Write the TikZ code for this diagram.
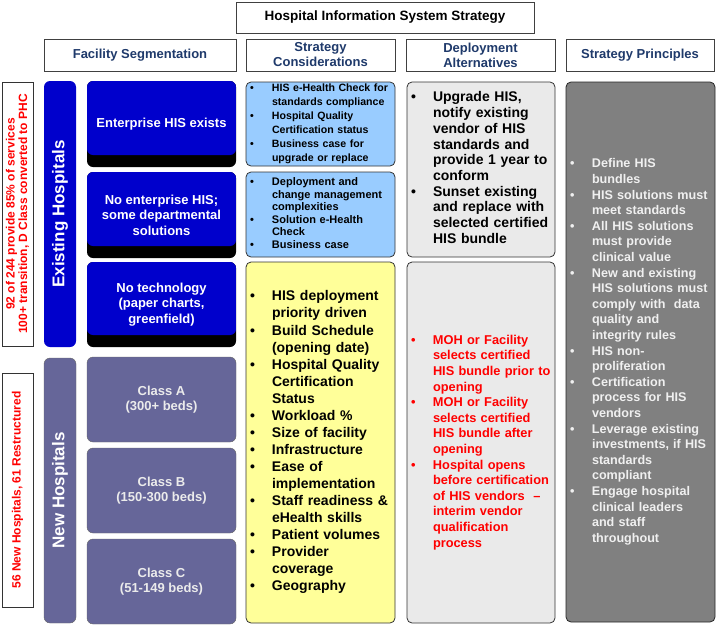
\documentclass[tikz,border=0pt]{standalone}
\usepackage{fontspec}
\setmainfont{Liberation Sans}
\definecolor{hisblue}{HTML}{0000CC}
\definecolor{hisslate}{HTML}{666699}
\definecolor{hissky}{HTML}{99CCFF}
\definecolor{hisyellow}{HTML}{FFFF99}
\definecolor{hislight}{HTML}{EAEAEA}
\definecolor{hisgray}{HTML}{808080}
\definecolor{hisnavy}{HTML}{1F3A6B}
\definecolor{hisred}{HTML}{FF0000}
\newcommand{\bl}{\textbullet}
\newcommand{\hislist}[1]{\begin{tabular}{@{}p{22pt}@{}l@{}}#1\end{tabular}}
\begin{document}
\begin{tikzpicture}[x=1pt,y=-1pt,
  head/.style={draw=black!75, line width=0.8pt, fill=white, text=hisnavy, align=center, inner sep=0pt,
    minimum height=32pt, font=\fontsize{13}{15}\selectfont\bfseries},
  note/.style={draw=black!80, line width=0.8pt, text=hisred, rotate=90, align=center, inner sep=0pt,
    minimum height=31pt, font=\fontsize{12}{12.5}\selectfont\bfseries},
  bar/.style={rounded corners=6pt, rotate=90, text=white, inner sep=0pt,
    minimum height=32pt, font=\fontsize{17}{20}\selectfont\bfseries},
  seg/.style={rounded corners=6pt, fill=black, text=white, align=center, inner sep=0pt,
    minimum width=149pt, minimum height=86pt, font=\fontsize{13}{15.4}\selectfont\bfseries,
    path picture={\fill[hisblue, rounded corners=6pt] (path picture bounding box.north west)
      rectangle ([yshift=12pt]path picture bounding box.south east);}},
  cls/.style={rounded corners=6pt, fill=hisslate, draw=black!60, text=white!92!black, align=center, inner sep=0pt,
    minimum width=149pt, minimum height=85pt, font=\fontsize{13}{15.6}\selectfont\bfseries},
  list/.style={rounded corners=5pt, draw=black!80, line width=0.8pt, align=left,
    text width=141pt, inner xsep=4pt, inner ysep=0pt}]
\useasboundingbox (0,0) rectangle (719,629);

\node [draw=black!75, line width=0.8pt, inner sep=0pt, minimum width=298pt, minimum height=31pt,
  font=\fontsize{13.5}{15}\selectfont\bfseries] (title) at (385,17.5) {Hospital Information System Strategy};

\node [head, minimum width=192pt] (fac) at (140,55) {Facility Segmentation};
\node [head, minimum width=149pt] (con) at (320.5,55) {Strategy\\Considerations};
\node [head, minimum width=149pt] (dep) at (480.5,55) {Deployment\\Alternatives};
\node [head, minimum width=148pt] (pri) at (640,55) {Strategy Principles};

\node [note, minimum width=264pt] (oldnote) at (17.5,214) {92 of 244 provide 85\% of services\\100+ transition, D Class converted to PHC};
\node [note, minimum width=234pt] (newnote) at (17.5,490) {56 New Hospitals, 61 Restructured};

\node [bar, fill=hisblue, minimum width=266pt] (exist) at (60,214) {Existing Hospitals};
\node [bar, fill=hisslate, draw=black!60, minimum width=265pt] (new) at (60,490.5) {New Hospitals};

\node [seg] (ent) at (161.5,124) {Enterprise HIS exists};
\node [seg] (dept) at (161.5,215) {No enterprise HIS;\\some departmental\\solutions};
\node [seg, minimum height=85pt] (notech) at (161.5,304.5) {No technology\\(paper charts,\\greenfield)};
\node [cls] (clsa) at (161.5,399.5) {Class A\\(300+ beds)};
\node [cls] (clsb) at (161.5,490.5) {Class B\\(150-300 beds)};
\node [cls] (clsc) at (161.5,581.5) {Class C\\(51-149 beds)};

\node [list, fill=hissky, minimum height=84pt, font=\fontsize{10.6}{14}\selectfont\bfseries] (conent) at (320.5,124) {\hislist{
  \bl & HIS e-Health Check for\\
      & standards compliance\\
  \bl & Hospital Quality\\
      & Certification status\\
  \bl & Business case for\\
      & upgrade or replace}};
\node [list, fill=hissky, minimum height=85pt, font=\fontsize{11}{12.6}\selectfont\bfseries] (condept) at (320.5,214.5) {\hislist{
  \bl & Deployment and\\
      & change management\\
      & complexities\\
  \bl & Solution e-Health\\
      & Check\\
  \bl & Business case}};
\node [list, fill=hisyellow, minimum height=361pt, font=\fontsize{14}{17.06}\selectfont\bfseries] (connew) at (320.5,442.5) {\hislist{
  \bl & HIS deployment\\
      & priority driven\\
  \bl & Build Schedule\\
      & (opening date)\\
  \bl & Hospital Quality\\
      & Certification\\
      & Status\\
  \bl & Workload \%\\
  \bl & Size of facility\\
  \bl & Infrastructure\\
  \bl & Ease of\\
      & implementation\\
  \bl & Staff readiness \&\\
      & eHealth skills\\
  \bl & Patient volumes\\
  \bl & Provider\\
      & coverage\\
  \bl & Geography}};

\node [list, fill=hislight, text width=140pt, minimum height=175pt, font=\fontsize{14}{15.7}\selectfont\bfseries] (depold) at (481,169.5) {\hislist{
  \bl & Upgrade HIS,\\
      & notify existing\\
      & vendor of HIS\\
      & standards and\\
      & provide 1 year to\\
      & conform\\
  \bl & Sunset existing\\
      & and replace with\\
      & selected certified\\
      & HIS bundle}};
\node [list, fill=hislight, text width=140pt, minimum height=361pt, text=hisred, font=\fontsize{12.8}{15.6}\selectfont\bfseries] (depnew) at (481,442.5) {\hislist{
  \bl & MOH or Facility\\
      & selects certified\\
      & HIS bundle prior to\\
      & opening\\
  \bl & MOH or Facility\\
      & selects certified\\
      & HIS bundle after\\
      & opening\\
  \bl & Hospital opens\\
      & before certification\\
      & of HIS vendors~ –\\
      & interim vendor\\
      & qualification\\
      & process}};

\node [list, fill=hisgray, draw=black!85, minimum height=540pt, text=white!94!black, font=\fontsize{12.6}{15.6}\selectfont\bfseries] (prin) at (640.5,352) {\hislist{
  \bl & Define HIS\\
      & bundles\\
  \bl & HIS solutions must\\
      & meet standards\\
  \bl & All HIS solutions\\
      & must provide\\
      & clinical value\\
  \bl & New and existing\\
      & HIS solutions must\\
      & comply with~ data\\
      & quality and\\
      & integrity rules\\
  \bl & HIS non-\\
      & proliferation\\
  \bl & Certification\\
      & process for HIS\\
      & vendors\\
  \bl & Leverage existing\\
      & investments, if HIS\\
      & standards\\
      & compliant\\
  \bl & Engage hospital\\
      & clinical leaders\\
      & and staff\\
      & throughout}};
\end{tikzpicture}
\end{document}
